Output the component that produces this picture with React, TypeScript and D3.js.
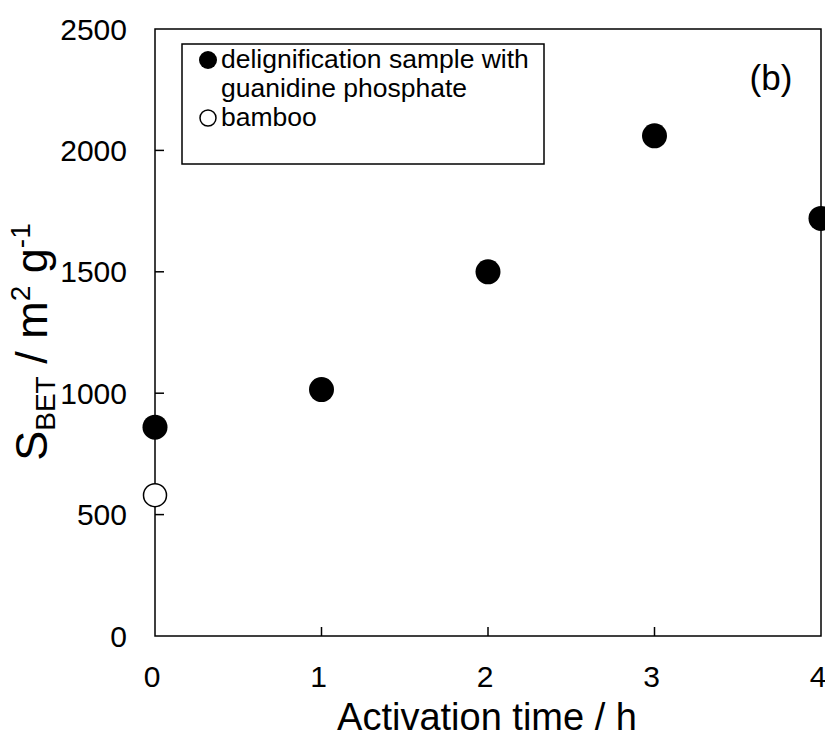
import { scaleLinear } from 'd3';
import React from 'react';

const times = [0, 1, 2, 3, 4];
const sbetDelig = [860, 1015, 1500, 2060, 1720];
const bambooTimes = [0];
const sbetBamboo = [580];
const xTicks = [0, 1, 2, 3, 4];
const yTicks = [0, 500, 1000, 1500, 2000, 2500];

const width = 825;
const height = 739;
const margin = { top: 29, right: 4, bottom: 103, left: 155 };
const font = 'Arial, "Liberation Sans", sans-serif';

const App = () => {
	const innerWidth = width - margin.left - margin.right;
	const innerHeight = height - margin.top - margin.bottom;

	const xScale = scaleLinear().domain([0, 4]).range([0, innerWidth]);
	const yScale = scaleLinear().domain([0, 2500]).range([innerHeight, 0]);

	return (
		<svg
			width={width}
			height={height}
			style={{ position: 'absolute', left: 0, top: 0, background: '#fff' }}
			fontFamily={font}
		>
			<g transform={`translate(${margin.left},${margin.top})`}>
				{/* frame */}
				<rect
					x={0}
					y={0}
					width={innerWidth}
					height={innerHeight}
					fill="none"
					stroke="#000"
					strokeWidth={1.5}
				/>
				{/* y ticks */}
				{yTicks.map(t => (
					<g key={t} transform={`translate(0,${yScale(t)})`}>
						{t > 0 && t < 2500 && <line x2={9} stroke="#000" strokeWidth={1.5} />}
						<text x={-28} dy=".35em" textAnchor="end" fontSize={30}>
							{t}
						</text>
					</g>
				))}
				{/* x ticks */}
				{xTicks.map(t => (
					<g key={t} transform={`translate(${xScale(t)},${innerHeight})`}>
						{t > 0 && t < 4 && <line y2={-9} stroke="#000" strokeWidth={1.5} />}
						<text x={-3} y={51} textAnchor="middle" fontSize={30}>
							{t}
						</text>
					</g>
				))}
				{/* bamboo */}
				{bambooTimes.map((t, i) => (
					<circle
						key={'b' + i}
						cx={xScale(t)}
						cy={yScale(sbetBamboo[i])}
						r={11.5}
						fill="#fff"
						stroke="#000"
						strokeWidth={1.5}
					/>
				))}
				{/* delignification sample */}
				{times.map((t, i) => (
					<circle key={'d' + i} cx={xScale(t)} cy={yScale(sbetDelig[i])} r={12.5} fill="#000" />
				))}
				{/* panel label */}
				<text x={616} y={61} textAnchor="middle" fontSize={35}>
					(b)
				</text>
			</g>
			{/* legend */}
			<g>
				<rect x={182} y={44} width={362} height={120} fill="#fff" stroke="#000" strokeWidth={1.5} />
				<circle cx={208} cy={60} r={9} fill="#000" />
				<text x={221} y={68} fontSize={26.5}>
					delignification sample with
				</text>
				<text x={221} y={97} fontSize={26.5}>
					guanidine phosphate
				</text>
				<circle cx={208} cy={118} r={8} fill="#fff" stroke="#000" strokeWidth={1.5} />
				<text x={221} y={126} fontSize={26.5}>
					bamboo
				</text>
			</g>
			{/* axis titles */}
			<text x={margin.left + innerWidth / 2 - 1} y={730} textAnchor="middle" fontSize={38}>
				Activation time / h
			</text>
			<text transform={`translate(47,342) rotate(-90)`} textAnchor="middle" fontSize={45}>
				S<tspan fontSize={28} dy={8}>BET</tspan>
				<tspan dy={-8}> / m</tspan>
				<tspan fontSize={28} dy={-17}>2</tspan>
				<tspan dy={17}> g</tspan>
				<tspan fontSize={28} dy={-17}>-1</tspan>
			</text>
		</svg>
	);
};

export default App;
